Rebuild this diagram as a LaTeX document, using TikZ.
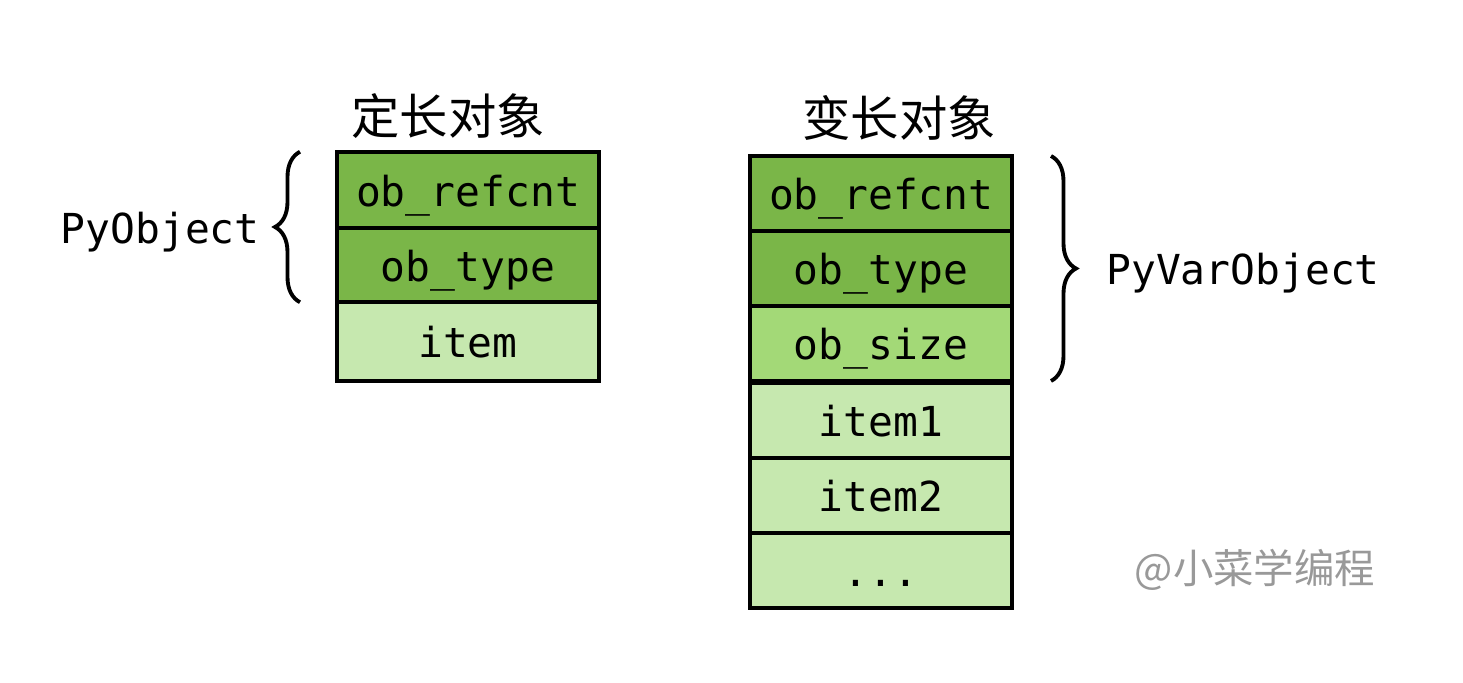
\documentclass[tikz,border=0pt]{standalone}
\usepackage{fontspec}
\setmonofont{DejaVu Sans Mono}
\newfontfamily\cjk{Noto Sans CJK SC}
\usetikzlibrary{positioning,calc,decorations.pathreplacing}
\definecolor{darkgrn}{HTML}{7AB648}
\definecolor{midgrn}{HTML}{A3D977}
\definecolor{lightgrn}{HTML}{C6E8AF}
\definecolor{wmgray}{HTML}{999999}

\begin{document}
\begin{tikzpicture}[
  node distance=0pt,
  cell/.style={draw,line width=2.2pt,outer sep=0pt,inner sep=0pt,minimum width=5.24cm,minimum height=1.5cm,
    text height=0.77cm,text depth=0.12cm,font=\fontsize{23.5}{26}\selectfont\ttfamily},
  lbl/.style={inner sep=0pt,text height=0.77cm,text depth=0.12cm,font=\fontsize{23.5}{26}\selectfont\ttfamily},
  ttl/.style={font=\fontsize{27.5}{30}\selectfont\cjk},
  brc/.style={decorate,decoration={brace,amplitude=0.5cm},line width=2.2pt}
]
\useasboundingbox (0,0) rectangle (29.26,13.66);

% fixed-size object
\node[ttl] (fixtitle) at (8.96,11.34) {定长对象};
\node[cell,fill=darkgrn,minimum height=1.53cm] (fref) at (9.36,9.86) {ob\_refcnt};
\node[cell,fill=darkgrn,minimum height=1.48cm,below=of fref] (ftype) {ob\_type};
\node[cell,fill=lightgrn,minimum height=1.58cm,below=of ftype] (fitem) {item};

% variable-size object
\node[ttl] (vartitle) at (17.98,11.30) {变长对象};
\node[cell,fill=darkgrn] (vref) at (17.62,9.79) {ob\_refcnt};
\node[cell,fill=darkgrn,below=of vref] (vtype) {ob\_type};
\node[cell,fill=midgrn,below=of vtype] (vsize) {ob\_size};
\node[cell,fill=lightgrn,below=0.04cm of vsize] (vitem1) {item1};
\node[cell,fill=lightgrn,below=of vitem1] (vitem2) {item2};
\node[cell,fill=lightgrn,below=of vitem2] (vdots) {...};

% braces
\coordinate (lbtop) at ($(fref.north west)+(-0.74,0)$);
\coordinate (lbbot) at ($(ftype.south west)+(-0.74,0)$);
\draw[brc] (lbbot) -- (lbtop);
\node[lbl,anchor=east] (pyobj) at ($(lbtop)!0.5!(lbbot)+(-0.8,0)$) {PyObject};

\coordinate (rbtop) at ($(vref.north east)+(0.78,0)$);
\coordinate (rbbot) at ($(vsize.south east)+(0.78,0)$);
\draw[brc] (rbtop) -- (rbbot);
\node[lbl,anchor=west] (pyvar) at ($(rbtop)!0.5!(rbbot)+(1.1,0)$) {PyVarObject};

\node[font=\fontsize{23}{26}\selectfont\cjk,text=wmgray] (mark) at (25.1,2.26) {@小菜学编程};
\end{tikzpicture}
\end{document}
